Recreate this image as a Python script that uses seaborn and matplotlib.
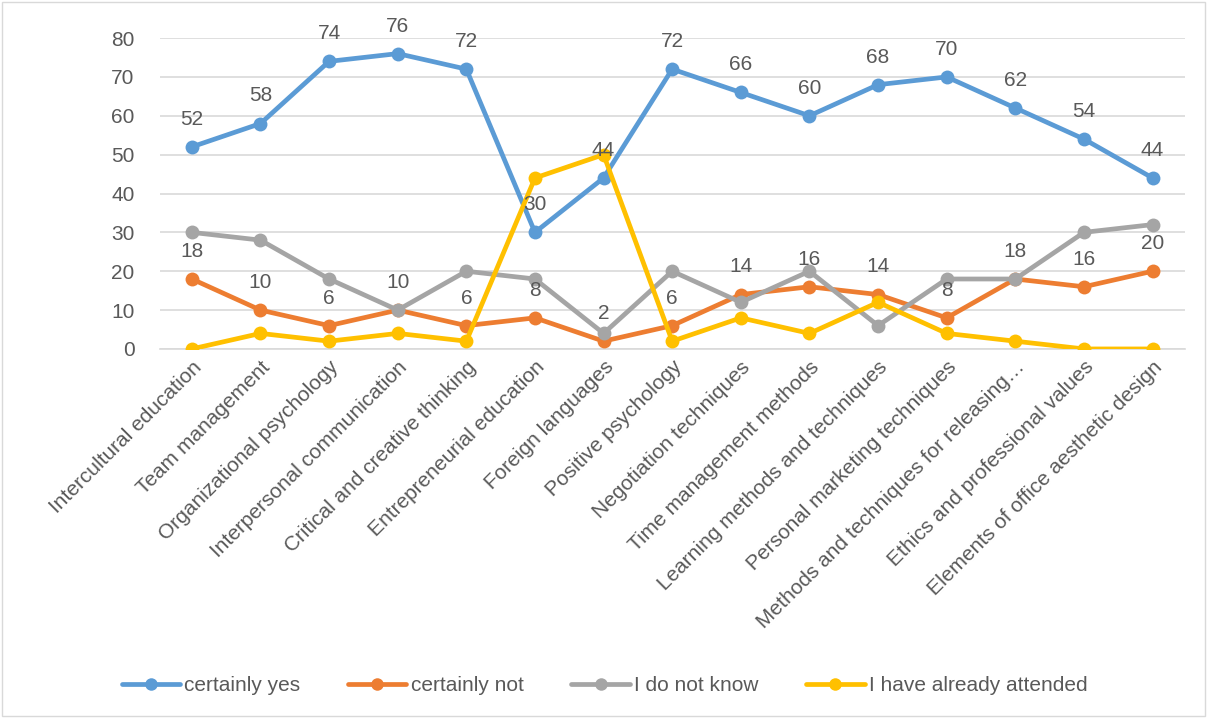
import matplotlib
matplotlib.use("Agg")
import matplotlib.pyplot as plt
import seaborn as sns
import pandas as pd
from matplotlib.patches import Rectangle
from matplotlib.lines import Line2D

categories = ["Intercultural education", "Team management", "Organizational psychology",
              "Interpersonal communication", "Critical and creative thinking",
              "Entrepreneurial education", "Foreign languages", "Positive psychology",
              "Negotiation techniques", "Time management methods",
              "Learning methods and techniques", "Personal marketing techniques",
              "Methods and techniques for releasing…", "Ethics and professional values",
              "Elements of office aesthetic design"]
certainly_yes = [52, 58, 74, 76, 72, 30, 44, 72, 66, 60, 68, 70, 62, 54, 44]
certainly_not = [18, 10, 6, 10, 6, 8, 2, 6, 14, 16, 14, 8, 18, 16, 20]
do_not_know = [30, 28, 18, 10, 20, 18, 4, 20, 12, 20, 6, 18, 18, 30, 32]
already_attended = [0, 4, 2, 4, 2, 44, 50, 2, 8, 4, 12, 4, 2, 0, 0]

series_names = ["certainly yes", "certainly not", "I do not know", "I have already attended"]
series_vals = [certainly_yes, certainly_not, do_not_know, already_attended]
colors = ["#5B9BD5", "#ED7D31", "#A5A5A5", "#FFC000"]

rows = []
for name, vals in zip(series_names, series_vals):
    for i, v in enumerate(vals):
        rows.append({"x": i, "value": v, "series": name})
df = pd.DataFrame(rows)

sns.set_theme(style="white")
plt.rcParams['font.family'] = ['Liberation Sans', 'DejaVu Sans']
txt = "#595959"

fig = plt.figure(figsize=(12.09, 7.18), dpi=100)
ax = fig.add_axes([0.132, 0.514, 0.848, 0.433])

sns.lineplot(data=df, x="x", y="value", hue="series", hue_order=series_names,
             palette=colors, marker="o", markersize=10, markeredgewidth=0,
             linewidth=3.4, ax=ax, legend=False, zorder=3)

ax.set_xlim(-0.47, len(categories) - 0.53)
ax.set_ylim(0, 80)
ax.set_yticks(range(0, 81, 10))
ax.yaxis.grid(True, color="#D9D9D9", linewidth=1.2, zorder=0)
ax.xaxis.grid(False)
for s in ax.spines.values():
    s.set_visible(False)
ax.spines["bottom"].set_visible(True)
ax.spines["bottom"].set_color("#D9D9D9")
ax.spines["bottom"].set_linewidth(1.2)
ax.set_xlabel("")
ax.set_ylabel("")
ax.set_xticks(range(len(categories)))
ax.set_xticklabels(categories, rotation=45, ha="right", rotation_mode="anchor",
                   fontsize=15, color=txt)
ax.tick_params(axis="x", length=0, pad=6)
ax.tick_params(axis="y", length=0, labelsize=15, labelcolor=txt, pad=18)

for i, v in enumerate(certainly_yes):
    ax.annotate(str(v), (i, v), xytext=(0, 13), textcoords="offset points",
                ha="center", va="bottom", fontsize=15, color=txt, zorder=5)
for i, v in enumerate(certainly_not):
    ax.annotate(str(v), (i, v), xytext=(0, 13), textcoords="offset points",
                ha="center", va="bottom", fontsize=15, color=txt, zorder=5)

handles = [Line2D([0], [0], color=c, lw=3.4, marker="o", markersize=9, markeredgewidth=0)
           for c in colors]
fig.legend(handles, series_names, loc="center", bbox_to_anchor=(0.5, 0.045), ncol=4,
           frameon=False, fontsize=15, labelcolor=txt, handlelength=2.8,
           handletextpad=0.2, columnspacing=2.3)

fig.patches.append(Rectangle((0.002, 0.003), 0.995, 0.994, transform=fig.transFigure,
                             fill=False, edgecolor="#D9D9D9", linewidth=1))

fig.savefig("out.png", dpi=100, facecolor="white")
